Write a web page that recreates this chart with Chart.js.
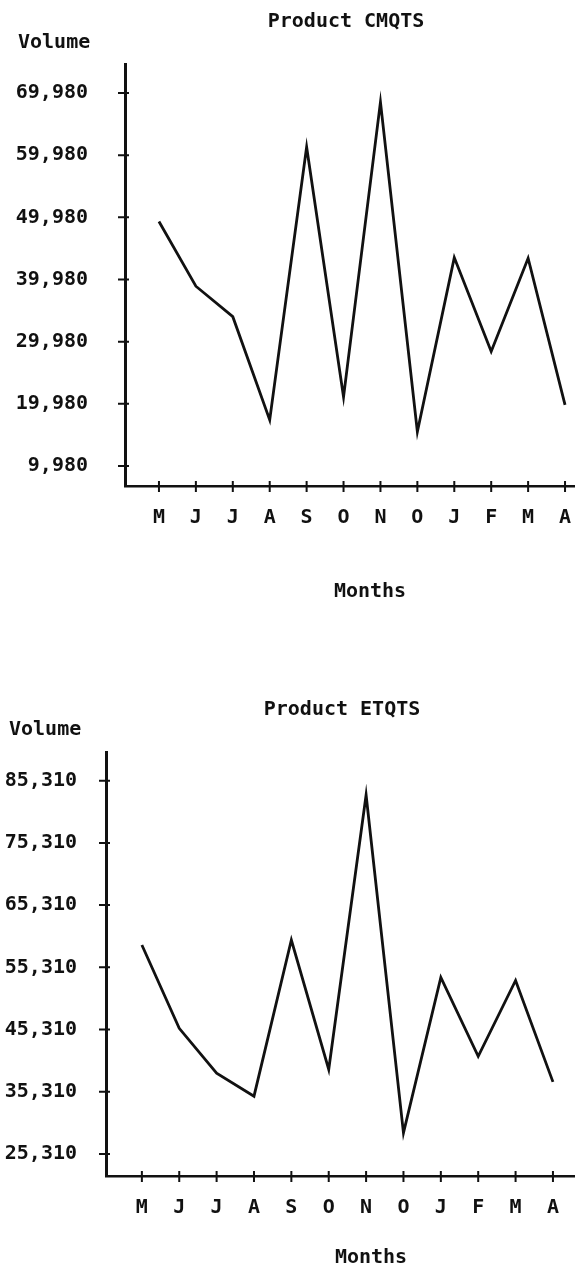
<!DOCTYPE html>
<html>
<head>
<meta charset="utf-8">
<script src="https://cdn.jsdelivr.net/npm/chart.js@4.4.1/dist/chart.umd.min.js"></script>
<style>
  body { margin: 0; background: #fff; }
  .panel { position: absolute; left: 0; width: 575px; height: 630px; }
</style>
</head>
<body>
<div class="panel" style="top:0"><canvas id="cmqtsChart" width="575" height="630"></canvas></div>
<div class="panel" style="top:640px"><canvas id="etqtsChart" width="575" height="630"></canvas></div>
<script>
// month initials along the bottom, May through April
const months = ['M', 'J', 'J', 'A', 'S', 'O', 'N', 'O', 'J', 'F', 'M', 'A'];

const cmqtsVolume = [49300, 38900, 34000, 17400, 61300, 21100, 68500, 15500, 43500, 28400, 43400, 19800];
const cmqtsTicks = [9980, 19980, 29980, 39980, 49980, 59980, 69980];

const etqtsVolume = [58900, 45500, 38300, 34600, 59700, 38900, 83000, 28700, 53700, 41000, 53200, 36900];
const etqtsTicks = [25310, 35310, 45310, 55310, 65310, 75310, 85310];

const FONT = '"DejaVu Sans Mono", "Liberation Mono", monospace';
const INK = '#111';

// little cross marks where each tick meets its axis
const crossTicks = {
  id: 'crossTicks',
  afterDraw(chart) {
    const { ctx, scales: { x, y } } = chart;
    ctx.save();
    ctx.strokeStyle = INK;
    ctx.lineWidth = 2;
    ctx.beginPath();
    x.ticks.forEach(t => {
      const px = x.getPixelForValue(t.value);
      ctx.moveTo(px, x.top - 5);
      ctx.lineTo(px, x.top + 6);
    });
    y.ticks.forEach(t => {
      const py = y.getPixelForValue(t.value);
      ctx.moveTo(y.right - 7, py);
      ctx.lineTo(y.right + 4, py);
    });
    ctx.stroke();
    ctx.restore();
  }
};

const captions = {
  id: 'captions',
  afterDraw(chart, args, opts) {
    const { ctx } = chart;
    ctx.save();
    ctx.fillStyle = INK;
    ctx.font = 'bold 20px ' + FONT;
    ctx.textBaseline = 'middle';
    ctx.textAlign = 'center';
    ctx.fillText(opts.title, opts.titleX, opts.titleY);
    ctx.fillText('Months', opts.monthsX, opts.monthsY);
    ctx.textAlign = 'left';
    ctx.fillText('Volume', opts.volumeX, opts.volumeY);
    ctx.restore();
  }
};

function createVolumeChart(canvasId, series, tickValues, look) {
  const ctx = document.getElementById(canvasId).getContext('2d');
  return new Chart(ctx, {
    type: 'line',
    data: {
      datasets: [{
        data: series.map((v, i) => ({ x: i, y: v })),
        borderColor: INK,
        borderWidth: 2.8,
        pointRadius: 0,
        tension: 0,
      }],
    },
    options: {
      responsive: false,
      animation: false,
      layout: { padding: { top: look.top, bottom: look.bottom, left: 0, right: 0 } },
      plugins: {
        legend: { display: false },
        tooltip: { enabled: false },
        captions: look.captions,
      },
      scales: {
        x: {
          type: 'linear',
          min: look.xMin,
          max: look.xMax,
          grid: { drawOnChartArea: false, drawTicks: false },
          border: { color: INK, width: 2.5 },
          afterBuildTicks: s => { s.ticks = months.map((m, i) => ({ value: i })); },
          afterFit: s => {
            s.height = look.xHeight;
            s.paddingLeft = 0;
            s.paddingRight = 0;
          },
          ticks: {
            color: INK,
            font: { family: FONT, size: 20, weight: 'bold' },
            padding: look.xPad,
            maxRotation: 0,
            autoSkip: false,
            callback: v => months[v],
          },
        },
        y: {
          min: look.yMin,
          max: look.yMax,
          grid: { drawOnChartArea: false, drawTicks: false },
          border: { color: INK, width: 3 },
          afterBuildTicks: s => { s.ticks = tickValues.map(v => ({ value: v })); },
          afterFit: s => {
            s.width = look.yWidth;
            s.paddingTop = 0;
            s.paddingBottom = 0;
          },
          ticks: {
            color: INK,
            font: { family: FONT, size: 20, weight: 'bold' },
            padding: look.yPad,
            callback: v => v.toLocaleString('en-US'),
          },
        },
      },
    },
    plugins: [crossTicks, captions],
  });
}

createVolumeChart('cmqtsChart', cmqtsVolume, cmqtsTicks, {
  top: 64, bottom: 84, xHeight: 60, yWidth: 125,
  xMin: -0.92, xMax: 11.27, yMin: 6765, yMax: 74640,
  xPad: 20, yPad: 37,
  captions: { title: 'Product CMQTS', titleX: 346, titleY: 22, volumeX: 18, volumeY: 43, monthsX: 370, monthsY: 592 },
});

createVolumeChart('etqtsChart', etqtsVolume, etqtsTicks, {
  top: 112, bottom: 34, xHeight: 60, yWidth: 106,
  xMin: -0.96, xMax: 11.59, yMin: 21770, yMax: 89920,
  xPad: 20, yPad: 29,
  captions: { title: 'Product ETQTS', titleX: 342, titleY: 70, volumeX: 9, volumeY: 90, monthsX: 371, monthsY: 618 },
});
</script>
</body>
</html>
